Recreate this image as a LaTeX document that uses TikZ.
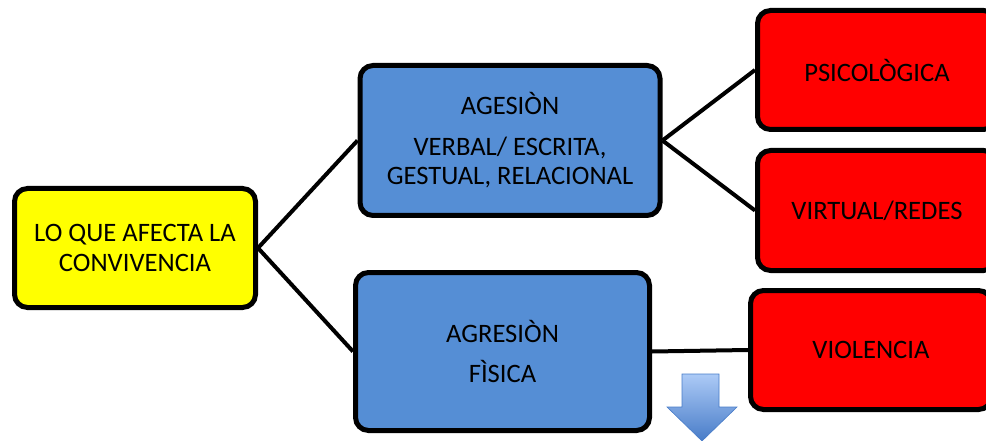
\documentclass[tikz,border=0pt]{standalone}
\usepackage{fontspec}
\setmainfont{Carlito}
\usetikzlibrary{positioning}

\definecolor{boxyellow}{RGB}{255,255,0}
\definecolor{boxblue}{RGB}{85,142,213}
\definecolor{boxred}{RGB}{255,0,0}
\definecolor{arrowtop}{RGB}{172,202,246}
\definecolor{arrowbot}{RGB}{72,124,200}

\tikzset{
   box/.style={draw=black,line width=5pt,rounded corners=13pt,align=center,
      font=\fontsize{26.6}{29.5}\selectfont,inner sep=0pt},
   root/.style={box,fill=boxyellow,minimum width=241pt,minimum height=119pt},
   branch/.style={box,fill=boxblue,minimum width=300pt},
   leaf/.style={box,fill=boxred,minimum width=239pt,minimum height=119pt},
   link/.style={line width=4pt}
}

\begin{document}
\begin{tikzpicture}[x=1pt,y=-1pt,node distance=2cm,on grid]
   \useasboundingbox (0,0) rectangle (986,441);
   \clip (0,0) rectangle (986,441);
   \node[root] (conv) at (135,248) {LO QUE AFECTA LA\\CONVIVENCIA};
   \node[branch,minimum height=150pt] (verbal) [above right=107.5pt and 375pt of conv]
      {AGESIÒN\\[11pt]VERBAL/ ESCRITA,\\GESTUAL, RELACIONAL};
   \node[branch,minimum width=294pt,minimum height=158pt] (fisica) [below right=103.5pt and 367.5pt of conv]
      {AGRESIÒN\\[11pt]FÌSICA};
   \node[leaf] (psico) [above right=70.5pt and 367pt of verbal] {PSICOLÒGICA};
   \node[leaf,minimum height=120pt] (virtual) [below right=70pt and 367pt of verbal] {VIRTUAL/REDES};
   \node[leaf,minimum width=241pt] (violencia) [above right=1.5pt and 368.5pt of fisica] {VIOLENCIA};
    \path[link]
    (conv.east) edge (verbal.west)
                edge (fisica.west)
    (verbal.east) edge (psico.west)
                  edge (virtual.west)
    (fisica.east) edge (violencia.west);
   % block arrow below the lower branch
   \shade[top color=arrowtop,bottom color=arrowbot,draw=arrowbot,line width=0.6pt]
      (682,374) -- (719,374) -- (719,407) -- (737,407) -- (702,441)
      -- (667,407) -- (682,407) -- cycle;
\end{tikzpicture}
\end{document}
